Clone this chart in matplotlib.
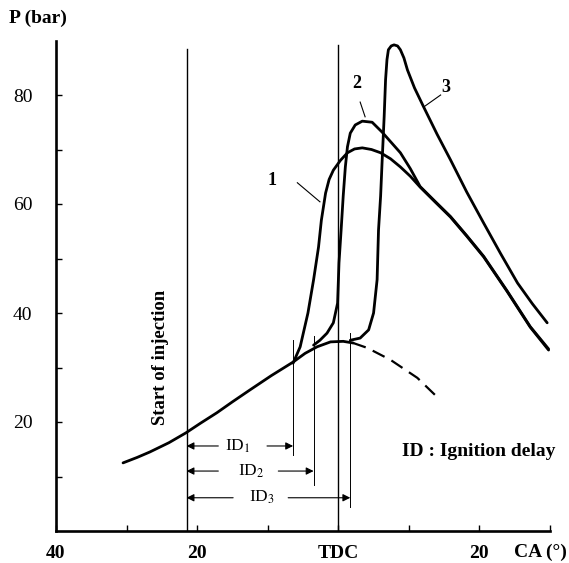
# Cylinder pressure vs crank angle, three ignition delays
import matplotlib
matplotlib.use('Agg')
import matplotlib.pyplot as plt

plt.rcParams['font.family'] = 'Liberation Serif'
plt.rcParams['mathtext.fontset'] = 'stix'

# compression (motoring) curve
comp_ca = [-30.5, -28.5, -26.7, -24.0, -21.6, -19.5, -17.2, -15.0, -12.5, -9.5, -6.4, -4.7, -3.0, -1.1, 0.7, 2.1]
comp_p = [12.5, 13.5, 14.5, 16.2, 18.0, 19.8, 21.7, 23.7, 25.9, 28.5, 31.0, 32.6, 33.8, 34.7, 34.8, 34.5]

# motoring continuation (dashed)
dash_ca = [2.1, 4.1, 7.4, 11.2, 14.0]
dash_p = [34.5, 33.6, 31.4, 28.1, 24.6]

# curve 1
c1_ca = [-6.4, -5.4, -4.3, -3.5, -2.8, -2.4, -1.8, -1.3, -0.7, 0.3, 1.3, 2.3, 3.4, 4.7, 6.0, 7.4,
         8.8, 10.2, 11.6, 13.7, 15.9, 18.2, 20.6, 23.9, 27.2, 29.8]
c1_p = [30.8, 33.8, 40.0, 46.1, 52.1, 57.0, 62.0, 64.5, 66.2, 68.0, 69.4, 70.1, 70.3, 70.0, 69.4, 68.3,
        66.8, 65.1, 63.1, 60.4, 57.6, 54.1, 50.3, 44.0, 37.4, 33.2]

# curve 2
c2_ca = [-3.5, -2.6, -1.6, -0.7, -0.1, 0.1, 0.4, 0.7, 1.0, 1.3, 1.7, 2.4, 3.4, 4.8, 6.2, 7.5,
         8.8, 10.2, 11.6, 13.7, 15.9, 18.2, 20.6, 23.9, 27.2, 29.8]
c2_p = [34.1, 35.0, 36.3, 38.2, 41.8, 49.2, 55.2, 61.5, 66.8, 70.5, 73.0, 74.5, 75.2, 75.0, 73.2, 71.3,
        69.4, 66.5, 63.2, 60.5, 57.7, 54.2, 50.4, 44.1, 37.5, 33.4]

# curve 3
c3_ca = [1.7, 3.1, 4.3, 5.0, 5.5, 5.7, 6.0, 6.2, 6.5, 6.7, 6.9, 7.1, 7.5, 7.9, 8.4, 8.8, 9.3, 9.8,
         10.8, 12.1, 14.0, 15.9, 18.2, 20.6, 23.0, 25.4, 27.5, 29.6]
c3_p = [35.0, 35.4, 36.9, 40.0, 46.1, 55.2, 61.5, 67.5, 76.0, 82.8, 86.5, 88.3, 89.0, 89.2, 89.0, 88.3, 86.8, 84.6,
        81.3, 77.8, 72.8, 68.1, 62.2, 56.5, 50.9, 45.5, 41.7, 38.2]

# start of injection and ends of ignition delays
soi_ca = -21.5
id_end_ca = [-6.4, -3.5, 1.7]
id_line_bottom = [13.9, 8.4, 4.4]
id_line_top = [35.0, 35.8, 36.3]
id_arrow_p = [15.6, 11.0, 6.1]
id_gap = [(-17.0, -10.1), (-17.0, -8.5), (-14.9, -7.1)]
id_label_ca = [-14.2, -12.3, -10.8]
id_names = ['ID$_1$', 'ID$_2$', 'ID$_3$']

x_ticks = [-40, -30, -20, -10, 0, 10, 20, 30]
x_labels = ['40', '', '20', '', 'TDC', '', '20', '']
y_ticks = [10, 20, 30, 40, 50, 60, 70, 80]
y_labels = ['', '20', '', '40', '', '60', '', '80']

fig = plt.figure(figsize=(5.69, 5.63), dpi=100)
ax = fig.add_axes([56 / 569, 32 / 563, 494 / 569, 490.5 / 563])

lw = 2.0
style = dict(color='black', lw=lw, solid_joinstyle='round', solid_capstyle='round')
ax.plot(comp_ca, comp_p, **style)
ax.plot(dash_ca, dash_p, color='black', lw=1.6, linestyle=(0, (6, 3.5)))
ax.plot(c1_ca, c1_p, **style)
ax.plot(c2_ca, c2_p, **style)
ax.plot(c3_ca, c3_p, **style)

ax.plot([soi_ca, soi_ca], [0, 88.4], color='black', lw=1.0)
ax.plot([0, 0], [0, 89.2], color='black', lw=1.0)

for i in range(3):
    ax.plot([id_end_ca[i], id_end_ca[i]], [id_line_bottom[i], id_line_top[i]],
            color='black', lw=0.7)
    ap = dict(arrowstyle='-|>', color='black', lw=0.8, mutation_scale=11,
              shrinkA=0, shrinkB=0)
    ax.annotate('', xy=(soi_ca, id_arrow_p[i]), xytext=(id_gap[i][0], id_arrow_p[i]),
                arrowprops=ap)
    ax.annotate('', xy=(id_end_ca[i], id_arrow_p[i]), xytext=(id_gap[i][1], id_arrow_p[i]),
                arrowprops=ap)
    ax.text(id_label_ca[i], id_arrow_p[i], id_names[i], fontsize=12.5,
            ha='center', va='center')

# curve labels with leaders
ax.text(-9.4, 64.4, '1', fontsize=13, fontweight='bold', ha='center', va='center')
ax.plot([-5.8, -2.6], [63.9, 60.4], color='black', lw=0.8)
ax.text(2.6, 82.2, '2', fontsize=13, fontweight='bold', ha='center', va='center')
ax.plot([3.1, 3.8], [78.7, 76.0], color='black', lw=0.8)
ax.text(15.2, 81.3, '3', fontsize=13, fontweight='bold', ha='center', va='center')
ax.plot([14.5, 12.1], [80.0, 77.8], color='black', lw=0.8)

ax.text(19.9, 14.5, 'ID : Ignition delay', fontsize=14, fontweight='bold',
        ha='center', va='center')
ax.text(-25.2, 31.9, 'Start of injection', fontsize=13.5, fontweight='bold',
        rotation=90, ha='center', va='center')

ax.set_xlim(-40, 30)
ax.set_ylim(0, 90)
ax.set_xticks(x_ticks)
ax.set_xticklabels(x_labels, fontsize=14, fontweight='bold')
ax.set_yticks(y_ticks)
ax.set_yticklabels(y_labels, fontsize=14)
ax.tick_params(axis='both', direction='in', length=4, width=1.0)
ax.tick_params(axis='x', pad=10)
ax.tick_params(axis='y', pad=17)
for s in ['top', 'right']:
    ax.spines[s].set_visible(False)
for s in ['left', 'bottom']:
    ax.spines[s].set_linewidth(1.9)

fig.text(38 / 569, 1 - 18 / 563, 'P (bar)', fontsize=14, fontweight='bold',
         ha='center', va='center')
fig.text(540 / 569, 1 - 552 / 563, 'CA (°)', fontsize=14, fontweight='bold',
         ha='center', va='center')

fig.savefig('out.png', dpi=100)
